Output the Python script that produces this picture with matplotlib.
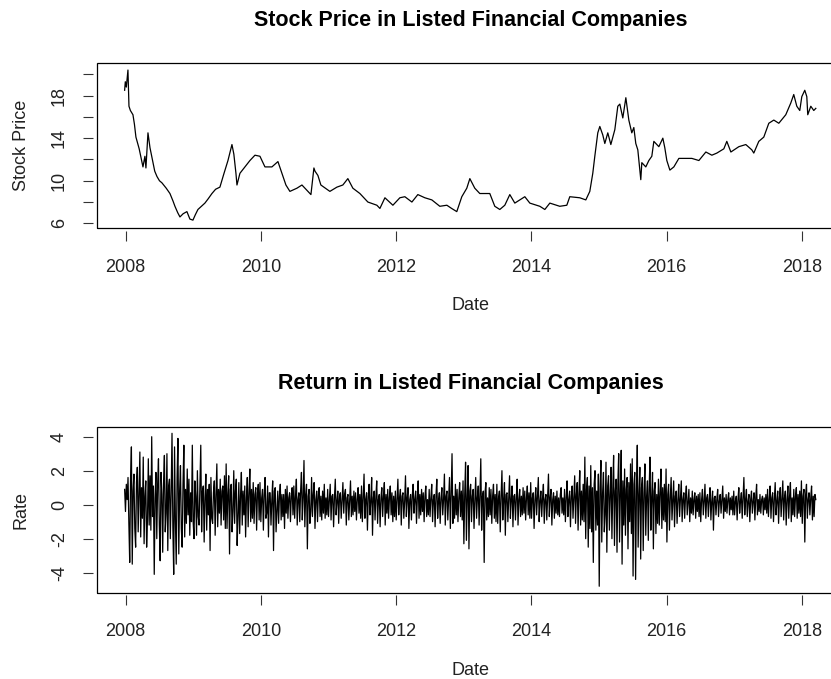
import numpy as np
import matplotlib
matplotlib.use("Agg")
import matplotlib.pyplot as plt
from matplotlib.patches import Rectangle

plt.rcParams['font.family'] = ['Liberation Sans', 'DejaVu Sans']

# price series (decimal year, price)
price_dates = [2007.985, 2007.995, 2008.010, 2008.034, 2008.049, 2008.070, 2008.108, 2008.130, 2008.152, 2008.200,
               2008.256, 2008.285, 2008.300, 2008.330, 2008.360, 2008.389, 2008.430, 2008.463, 2008.500, 2008.537,
               2008.600, 2008.655, 2008.700, 2008.729, 2008.770, 2008.803, 2008.850, 2008.906, 2008.950, 2008.995,
               2009.030, 2009.069, 2009.120, 2009.172, 2009.220, 2009.276, 2009.330, 2009.394, 2009.450, 2009.513,
               2009.572, 2009.600, 2009.631, 2009.646, 2009.690, 2009.764, 2009.838, 2009.912, 2009.986, 2010.060,
               2010.163, 2010.252, 2010.326, 2010.370, 2010.429, 2010.533, 2010.607, 2010.695, 2010.740, 2010.784,
               2010.800, 2010.843, 2010.887, 2011.020, 2011.124, 2011.212, 2011.286, 2011.360, 2011.464, 2011.582,
               2011.715, 2011.760, 2011.834, 2011.952, 2012.055, 2012.129, 2012.233, 2012.321, 2012.425, 2012.528,
               2012.646, 2012.750, 2012.820, 2012.897, 2012.940, 2012.971, 2013.045, 2013.090, 2013.163, 2013.237,
               2013.385, 2013.459, 2013.533, 2013.607, 2013.681, 2013.755, 2013.903, 2013.977, 2014.125, 2014.199,
               2014.273, 2014.420, 2014.524, 2014.568, 2014.716, 2014.805, 2014.864, 2014.908, 2014.938, 2014.982,
               2015.012, 2015.056, 2015.086, 2015.130, 2015.175, 2015.234, 2015.278, 2015.308, 2015.352, 2015.397,
               2015.441, 2015.485, 2015.515, 2015.544, 2015.574, 2015.618, 2015.633, 2015.692, 2015.737, 2015.781,
               2015.811, 2015.885, 2015.944, 2015.973, 2016.003, 2016.048, 2016.107, 2016.181, 2016.285, 2016.373,
               2016.477, 2016.580, 2016.669, 2016.743, 2016.846, 2016.890, 2016.950, 2017.068, 2017.171, 2017.260,
               2017.289, 2017.363, 2017.437, 2017.511, 2017.585, 2017.659, 2017.762, 2017.836, 2017.880, 2017.925,
               2017.969, 2017.999, 2018.043, 2018.073, 2018.087, 2018.132, 2018.176, 2018.206]
price = [18.5, 19.3, 18.8, 20.4, 17.0, 16.6, 16.2, 15.3, 14.1, 13.0,
         11.3, 12.3, 11.2, 14.5, 13.1, 12.2, 10.9, 10.4, 10.0, 9.8,
         9.3, 8.8, 8.1, 7.6, 7.0, 6.6, 6.9, 7.1, 6.4, 6.3,
         6.8, 7.3, 7.6, 7.9, 8.3, 8.8, 9.2, 9.4, 10.6, 11.9,
         13.4, 12.5, 10.7, 9.6, 10.7, 11.3, 11.9, 12.4, 12.3, 11.3,
         11.3, 11.8, 10.4, 9.6, 9.0, 9.3, 9.6, 9.0, 8.7, 11.2,
         10.9, 10.5, 9.6, 9.0, 9.4, 9.6, 10.2, 9.3, 8.8, 8.0,
         7.7, 7.4, 8.4, 7.7, 8.4, 8.5, 8.0, 8.7, 8.4, 8.2,
         7.6, 7.7, 7.4, 7.1, 7.9, 8.5, 9.3, 10.2, 9.3, 8.8,
         8.8, 7.6, 7.3, 7.7, 8.7, 7.9, 8.5, 7.9, 7.6, 7.3,
         7.9, 7.6, 7.7, 8.5, 8.4, 8.2, 9.0, 10.7, 12.3, 14.5,
         15.1, 14.3, 13.5, 14.5, 13.4, 14.8, 17.0, 17.2, 15.9, 17.8,
         15.7, 14.5, 15.0, 13.5, 12.9, 10.1, 11.7, 11.3, 11.9, 12.3,
         13.7, 13.2, 14.0, 13.1, 11.9, 11.0, 11.3, 12.1, 12.1, 12.1,
         11.9, 12.7, 12.4, 12.6, 13.0, 13.7, 12.7, 13.2, 13.4, 12.9,
         12.6, 13.7, 14.1, 15.4, 15.7, 15.4, 16.2, 17.3, 18.1, 17.0,
         16.6, 17.9, 18.5, 17.9, 16.2, 17.0, 16.6, 16.8]

# daily returns (%), read as half-year blocks of the band
returns = [
    # 2008
    0.9, -0.4, 1.2, 0.3, 1.6, -1.1, -3.4, 1.5, 3.4, -3.5, 0.8, 1.8, -1.4, -2.5, 1.3, 2.2, -1.6, 0.6, 3.1, -1.9,
    1.0, -0.8, 2.8, -2.3, 0.5, 1.4, -2.5, -0.9, 2.7, -1.2, 1.7, -1.5, 4.0, -0.7, 1.1, -4.1, 0.4, 1.9, -2.0, 1.2,
    2.7, -1.2, -3.3, 1.9, 0.6, -2.8, 1.3, 2.9, -1.6, -0.5, 3.0, -2.7, 1.1, 1.5, -2.0, 0.7, 4.2, -1.3, -4.1, 3.4,
    -0.9, -3.5, 1.6, 3.9, -2.9, 0.8, 2.3, -1.4, -2.5, 1.2, 3.5, -1.9, 0.9, -1.1, 2.1, -0.6, 1.5, -1.8, 0.7, -1.0,
    # 2009
    3.5, -1.0, -2.0, 1.4, 0.5, -1.8, 2.0, -0.7, -1.2, 1.1, 3.5, -1.6, 0.8, 1.1, -2.2, 0.4, 1.8, -1.5, 0.9, -0.6,
    1.2, -2.7, 1.6, -0.8, -1.1, 0.7, 1.4, -1.8, 0.6, 2.4, -1.3, 0.9, -0.5, 1.5, -1.2, 0.8, 1.1, -0.9, 1.7, -1.4,
    2.4, -1.4, 0.6, 1.7, -2.9, 0.9, 1.2, -1.6, -0.4, 2.0, -1.1, 0.8, 1.5, -2.4, -0.7, 1.3, -1.7, 0.5, 1.9, -1.2,
    0.8, -0.6, 1.1, -1.9, 0.4, 1.6, -1.3, 0.7, 2.1, -1.0, 0.9, -0.8, 1.3, -1.1, 0.6, 1.0, -1.5, 0.7, 1.2, -0.9,
    # 2010
    1.3, -1.0, 0.4, 0.9, -1.5, 0.6, 1.6, -0.8, -0.5, 1.1, -1.9, 0.7, 0.7, -1.2, 0.3, 1.4, -2.7, 0.8, 1.0, -1.6,
    -0.4, 0.8, -1.1, 0.5, 1.2, -0.9, 0.6, -0.7, 0.6, -1.4, 0.9, -0.5, 1.1, -0.8, 0.4, 0.7, -1.0, 0.5, 1.0, -0.6,
    1.1, -0.8, 0.5, 1.5, -1.2, 0.3, 0.7, -1.0, 0.8, 1.9, -0.9, 0.4, 2.6, -1.3, 0.6, 1.2, -2.6, 0.5, 0.9, -1.1,
    -0.4, 1.6, -0.7, 0.6, 1.3, -1.4, 0.3, 0.8, -1.0, 0.6, 1.0, -0.7, 0.5, -0.9, 0.8, -0.5, 1.2, -0.8, 0.4, -0.6,
    # 2011
    0.9, -0.7, 0.3, 1.2, -0.9, 0.5, 0.6, -1.3, 0.4, 1.5, -0.6, 0.2, 0.8, -1.1, 0.5, 0.7, -0.8, 0.3, 1.3, -0.5,
    0.6, 0.9, -1.2, 0.4, 0.6, -0.9, 0.2, 1.4, -0.7, 0.5, -0.6, 0.8, -0.4, 0.7, -0.9, 0.3, 1.0, -0.5, 0.6, -0.8,
    1.1, -1.0, 0.4, 1.8, -0.8, 0.3, 0.7, -1.5, 0.5, 1.2, -0.6, 0.2, 1.6, -1.8, 0.4, 0.8, -0.9, 0.5, 1.4, -1.1,
    0.3, 0.6, -1.3, 0.4, 1.0, -0.7, 0.5, 1.3, -1.2, 0.6, -0.5, 0.9, -0.8, 0.4, 1.1, -0.6, 0.7, -1.0, 0.5, -0.7,
    # 2012
    0.8, -0.9, 0.3, 1.5, -0.6, 0.4, 0.9, -1.2, 0.5, 0.7, -0.8, 0.2, 1.7, -0.7, 0.4, 1.0, -1.4, 0.3, 0.6, -0.9,
    0.5, 1.2, -0.5, 0.3, 0.8, -1.1, 0.4, 1.4, -0.8, 0.6, -0.6, 0.9, -0.4, 0.7, -1.0, 0.5, 1.1, -0.7, 0.3, -0.6,
    0.9, -0.7, 0.4, 1.2, -1.0, 0.3, 0.6, -1.3, 0.5, 1.5, -0.8, 0.2, 0.7, -1.1, 0.4, 1.0, -0.6, 0.3, 1.8, -1.2,
    0.5, 0.8, -0.9, 0.4, 1.6, -1.4, 0.6, 3.0, -1.1, 0.5, -0.8, 1.2, -0.6, 0.9, -1.0, 0.4, 1.3, -0.7, 0.8, -0.9,
    # 2013
    1.4, -2.3, 0.6, 2.5, -2.1, 0.4, 2.3, -2.6, 0.8, 1.2, -1.0, 0.5, 0.9, -1.4, 0.3, 1.6, -0.8, 0.4, 1.1, -1.2,
    0.6, 2.7, -1.5, 0.5, 0.8, -3.4, 0.7, 1.3, -0.9, 0.4, -0.7, 1.0, -0.6, 0.9, -1.1, 0.5, 1.2, -0.8, 0.6, -1.0,
    1.2, -1.1, 0.4, 0.8, -1.6, 0.5, 2.0, -0.9, 0.3, 1.3, -1.8, 0.6, 0.7, -1.0, 0.4, 1.7, -0.8, 0.3, 1.1, -1.3,
    0.5, 0.6, -0.9, 0.4, 1.5, -1.2, 0.3, 0.9, -0.7, 0.5, -0.6, 1.0, -0.5, 0.8, -0.9, 0.4, 1.1, -0.6, 0.7, -0.8,
    # 2014
    1.3, -0.8, 0.4, 0.7, -1.4, 0.3, 1.0, -0.6, 0.5, 1.6, -1.0, 0.2, 0.8, -0.7, 0.4, 1.2, -1.1, 0.3, 0.6, -0.9,
    0.5, 1.8, -0.7, 0.4, 0.9, -1.2, 0.3, 0.7, -0.8, 0.5, -0.5, 0.8, -0.6, 0.4, -0.7, 0.6, 1.0, -0.5, 0.4, -0.6,
    0.9, -1.0, 0.4, 1.4, -0.7, 0.3, 0.8, -1.3, 0.5, 1.1, -0.8, 0.4, 1.7, -1.1, 0.6, 1.3, -1.5, 0.7, 2.0, -1.2,
    0.8, -0.9, 1.2, -1.0, 2.8, -2.0, 0.9, 1.6, -2.5, 1.1, -1.4, 2.3, -1.6, 1.0, -3.4, 1.2, 2.0, -1.5, 0.8, -1.2,
    # 2015
    1.8, -4.8, 1.0, 2.6, -2.2, 0.7, 1.9, -1.6, -0.6, 2.5, -2.8, 1.1, 1.7, -1.5, 0.6, 2.2, -2.0, 0.9, 2.9, -2.4,
    0.8, 1.5, -2.8, 1.2, 3.0, -2.2, 0.7, 3.2, -3.5, 1.4, -1.2, 2.1, -1.8, 0.9, 1.6, -2.6, 1.3, -1.0, 2.4, -1.7,
    2.7, -4.2, 1.2, 1.9, -4.4, 0.8, 3.5, -2.5, 0.6, 2.2, -3.2, 1.0, 1.6, -2.7, 0.7, 2.4, -1.8, 0.5, 1.4, -2.1,
    0.9, 2.8, -1.5, 0.4, 1.9, -2.6, 0.8, 1.3, -1.7, 0.6, -1.1, 1.5, -1.2, 0.7, 2.1, -1.4, 1.0, -0.9, 1.2, -1.0,
    # 2016
    2.1, -2.2, 0.6, 1.2, -1.5, 0.4, 1.6, -0.9, 0.3, 1.4, -1.3, 0.5, 0.8, -1.1, 0.3, 1.2, -0.7, 0.4, 1.4, -1.0,
    0.3, 0.7, -0.8, 0.5, 1.1, -0.6, 0.2, 0.9, -1.0, 0.4, -0.5, 0.8, -0.6, 0.3, 0.7, -0.8, 0.5, -0.4, 0.6, -0.7,
    0.7, -1.0, 0.3, 0.9, -0.6, 0.2, 1.2, -0.8, 0.4, 0.6, -0.7, 0.3, 1.0, -0.9, 0.2, 0.8, -1.5, 0.4, 0.5, -0.6,
    0.3, 0.9, -0.7, 0.2, 0.6, -0.5, 0.3, 1.1, -0.8, 0.4, -0.4, 0.6, -0.5, 0.3, 0.7, -0.6, 0.4, -0.3, 0.5, -0.6,
    # 2017
    0.8, -0.6, 0.2, 0.5, -0.9, 0.3, 1.0, -0.5, 0.2, 0.7, -0.8, 0.4, 1.6, -0.6, 0.3, 0.9, -0.7, 0.2, 0.6, -1.0,
    0.3, 0.8, -0.5, 0.2, 0.7, -0.9, 0.4, 1.2, -0.6, 0.3, -0.4, 0.6, -0.5, 0.3, 0.5, -0.6, 0.4, -0.3, 0.6, -0.5,
    0.9, -0.7, 0.3, 1.1, -0.8, 0.4, 0.7, -1.0, 0.3, 1.3, -0.6, 0.2, 0.8, -1.1, 0.4, 1.0, -0.7, 0.3, 1.4, -0.9,
    0.4, 0.8, -1.2, 0.3, 1.1, -0.8, 0.5, 1.3, -1.0, 0.4, -0.6, 0.9, -0.7, 0.5, 1.0, -0.8, 0.6, -0.5, 0.8, -0.7,
    # 2018 (to March)
    1.4, -1.1, 0.5, 0.9, -2.2, 0.6, 1.2, -0.8, 0.3, 0.7, -0.6, 0.4, 1.1, -0.9, 0.5, -0.7, 0.6, 0.3,
]
return_dates = np.linspace(2007.985, 2018.206, len(returns))  # trading days, evenly spaced

year_ticks = [2008, 2010, 2012, 2014, 2016, 2018]
price_ticks = [6, 8, 10, 12, 14, 16, 18, 20]
price_labels = ['6', '', '10', '', '14', '', '18', '']
rate_ticks = [-4, -2, 0, 2, 4]

fig = plt.figure(figsize=(8.31, 6.79), dpi=100)
ax1 = fig.add_axes([0.1167, 0.6642, 0.900, 0.2430])
ax2 = fig.add_axes([0.1167, 0.1271, 0.900, 0.2445])


def r_style(ax, title, ylabel):
    # mimic base R: plain box, ticks sitting just off the box, rotated y labels
    for s in ax.spines.values():
        s.set_visible(False)
    ax.spines['left'].set_visible(True)
    ax.spines['bottom'].set_visible(True)
    ax.spines['left'].set_position(('outward', 3))
    ax.spines['bottom'].set_position(('outward', 2))
    ax.spines['left'].set_color('none')
    ax.spines['bottom'].set_color('none')
    ax.add_patch(Rectangle((0, 0), 1, 1, transform=ax.transAxes, fill=False,
                           edgecolor='black', lw=0.9, clip_on=False, zorder=5))
    ax.tick_params(direction='out', length=7, width=0.8, color='#333333',
                   labelsize=13, labelcolor='#222222')
    ax.tick_params(axis='x', pad=13)
    ax.tick_params(axis='y', pad=11)
    for lab in ax.get_yticklabels():
        lab.set_rotation(90)
        lab.set_va('center')
    ax.set_xticks(year_ticks)
    ax.set_xlim(2007.576, 2018.636)
    ax.set_xlabel('Date', fontsize=13, color='#222222')
    ax.xaxis.set_label_coords(0.5, -0.42)
    ax.xaxis.label.set_va('top')
    ax.set_ylabel(ylabel, fontsize=13, color='#222222')
    ax.yaxis.set_label_coords(-0.101, 0.5)
    ax.yaxis.label.set_va('center')
    ax.text(0.5, 1.26, title, transform=ax.transAxes, ha='center', va='center',
            fontsize=15.5, fontweight='bold')


ax1.plot(price_dates, price, color='black', lw=0.9)
ax1.set_yticks(price_ticks)
ax1.set_yticklabels(price_labels)
ax1.set_ylim(5.56, 21.06)
r_style(ax1, 'Stock Price in Listed Financial Companies', 'Stock Price')

ax2.plot(return_dates, returns, color='black', lw=0.9)
ax2.set_yticks(rate_ticks)
ax2.set_yticklabels([str(t) for t in rate_ticks])
ax2.set_ylim(-5.18, 4.59)
r_style(ax2, 'Return in Listed Financial Companies', 'Rate')

fig.savefig('out.png', dpi=100)
